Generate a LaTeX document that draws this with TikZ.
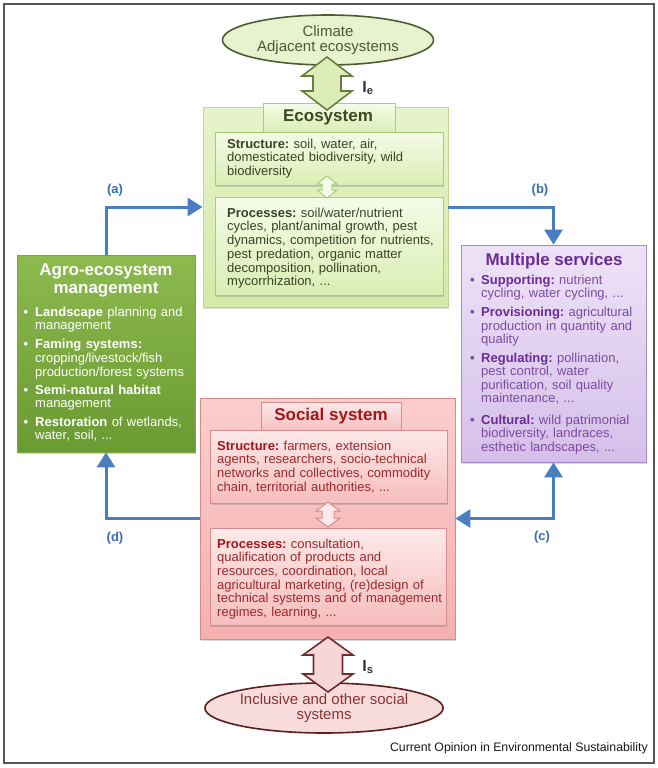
\documentclass[tikz,border=0pt]{standalone}
\usepackage{fontspec}
\setmainfont{Liberation Sans}
\usetikzlibrary{arrows.meta,shadows,shapes.geometric}
\frenchspacing

\definecolor{framegray}{HTML}{555555}
\definecolor{bluearr}{HTML}{4A7EC2}
\definecolor{bluelab}{HTML}{3A6DB5}
% ecosystem greens
\definecolor{ecotop}{HTML}{E6F3CB}
\definecolor{ecobot}{HTML}{D3EAA8}
\definecolor{ecoborder}{HTML}{B8D98F}
\definecolor{ecoinnertop}{HTML}{F5FBE8}
\definecolor{ecoinnerbot}{HTML}{DAEEB4}
\definecolor{ecoinnerborder}{HTML}{A8CC78}
\definecolor{ecotext}{HTML}{3B4226}
\definecolor{ecotitle}{HTML}{3A4A1E}
\definecolor{climfill}{HTML}{E7F2CF}
\definecolor{climborder}{HTML}{4F5B2F}
\definecolor{climtext}{HTML}{4C5733}
\definecolor{bigarrgfill}{HTML}{DCEDBA}
\definecolor{bigarrgborder}{HTML}{6B7B3C}
% agro
\definecolor{agrotop}{HTML}{8DBA4F}
\definecolor{agrobot}{HTML}{6A9A32}
\definecolor{agroborder}{HTML}{7AA640}
% services
\definecolor{servtop}{HTML}{EEE2F7}
\definecolor{servbot}{HTML}{D5BFEA}
\definecolor{servborder}{HTML}{A88BCB}
\definecolor{servtitle}{HTML}{6A2B97}
\definecolor{servtext}{HTML}{7B4AA0}
% social
\definecolor{soctop}{HTML}{FBCDCD}
\definecolor{socbot}{HTML}{F5B0B0}
\definecolor{socborder}{HTML}{D88A8A}
\definecolor{socinnertop}{HTML}{FDE9E9}
\definecolor{socinnerbot}{HTML}{F7BDBD}
\definecolor{socinnerborder}{HTML}{D98C8C}
\definecolor{soctitle}{HTML}{A3161A}
\definecolor{soctext}{HTML}{9A2A2A}
\definecolor{inclfill}{HTML}{F8DCDC}
\definecolor{inclborder}{HTML}{5A1F1F}
\definecolor{incltext}{HTML}{8C3232}
\definecolor{bigarrrfill}{HTML}{F6D6D6}
\definecolor{bigarrrborder}{HTML}{6E2C2C}

\newcommand\bodyfont{\fontsize{13}{13.7}\selectfont\frenchspacing}
\newcommand\fl{\rule{0pt}{9.5pt}}
\newcommand\bulA{\leavevmode\llap{\textbf{\textbullet}\hspace{7pt}}}
\newcommand\bulB{\leavevmode\llap{\textbf{\textbullet}\hspace{6.5pt}}}
\newcommand\dblarr[7]{%
  \draw[#1] (#2,#3) -- ({#2+#5},{#3+#7}) -- ({#2+#6},{#3+#7}) -- ({#2+#6},{#4-#7})
   -- ({#2+#5},{#4-#7}) -- (#2,#4) -- ({#2-#5},{#4-#7}) -- ({#2-#6},{#4-#7})
   -- ({#2-#6},{#3+#7}) -- ({#2-#5},{#3+#7}) -- cycle;}

\begin{document}
\begin{tikzpicture}[x=1pt,y=-1pt,
  box/.style={rectangle, inner sep=0pt, line width=0.8pt},
  shad/.style={drop shadow={shadow xshift=1.2pt, shadow yshift=-1.6pt, opacity=0.25, fill=black!60}},
  txt/.style={inner sep=0pt, anchor=north west, align=left, text width=300pt, font=\bodyfont},
  titlefont/.style={font=\fontsize{17}{18}\selectfont\bfseries},
  bluearrow/.style={draw=bluearr, line width=3pt, -{Triangle[length=15pt,width=18pt]}},
  bluedbl/.style={draw=bluearr, line width=3pt, {Triangle[length=15pt,width=18pt]}-{Triangle[length=15pt,width=18pt]}},
  bluelabel/.style={text=bluelab, font=\fontsize{13}{14}\selectfont\bfseries, inner sep=0pt},
  ilabel/.style={text=black!80, font=\fontsize{16}{16}\selectfont\bfseries, inner sep=0pt}
]
\useasboundingbox (0,0) rectangle (658,768);
\fill[white] (0,0) rectangle (658,768);
\draw[framegray, line width=1.8pt] (4,4) rectangle (654,763);

% ---------- Ecosystem ----------
\node[box, shad, draw=ecoborder, top color=ecotop, bottom color=ecobot,
      minimum width=245pt, minimum height=200pt] (eco) at (325.5,207) {};
\node[box, shad, draw=ecoinnerborder, top color=ecoinnertop, bottom color=ecoinnerbot,
      minimum width=132pt, minimum height=30pt] (ecotitlebox) at (329,118) {};
\node[titlefont, text=ecotitle, inner sep=0pt] (ecotitletxt) at (328,117) {Ecosystem};
\node[box, shad, draw=ecoinnerborder, top color=ecoinnertop, bottom color=ecoinnerbot,
      minimum width=228pt, minimum height=53pt] (ecostruct) at (329,158.5) {};
\node[box, shad, draw=ecoinnerborder, top color=ecoinnertop, bottom color=ecoinnerbot,
      minimum width=228pt, minimum height=98pt] (ecoproc) at (329,246) {};
\node[txt, text=ecotext] (ecostructtxt) at (227,138.5)
 {\fl\textbf{Structure:} soil, water, air,\\domesticated biodiversity, wild\\biodiversity};
\node[txt, text=ecotext] (ecoproctxt) at (227,207.5)
 {\fl\textbf{Processes:} soil/water/nutrient\\cycles, plant/animal growth, pest\\dynamics, competition for nutrients,\\pest predation, organic matter\\decomposition, pollination,\\mycorrhization, ...};

% ---------- Climate ----------
\node[ellipse, draw=climborder, line width=1.6pt, fill=climfill, minimum width=211pt,
      minimum height=50pt, inner sep=0pt, align=center, text=climtext,
      font=\fontsize{15}{15.5}\selectfont] (climate) at (328,40) {Climate\\Adjacent ecosystems};

% ---------- Agro ----------
\node[box, shad, draw=agroborder, top color=agrotop, bottom color=agrobot,
      minimum width=178pt, minimum height=197pt] (agro) at (106,353.5) {};
\node[titlefont, text=white, align=center, inner sep=0pt,
      font=\fontsize{17}{18}\selectfont\bfseries] (agrotitle) at (106,280) {Agro-ecosystem\\management};
\node[txt, text=white] (agrolist) at (25,306.5)
 {\leftskip=10pt\relax
  \bulA\fl\textbf{Landscape} planning and\\management\\[5pt]
  \bulA\textbf{Faming systems:}\\cropping/livestock/fish\\production/forest systems\\[4.5pt]
  \bulA\textbf{Semi-natural habitat}\\management\\[4.5pt]
  \bulA\textbf{Restoration} of wetlands,\\water, soil, ...\par};

% ---------- Services ----------
\node[box, shad, draw=servborder, top color=servtop, bottom color=servbot,
      minimum width=185pt, minimum height=217pt] (serv) at (553.5,353.5) {};
\node[titlefont, text=servtitle, inner sep=0pt] (servtitletxt) at (554,261) {Multiple services};
\node[txt, text=servtext, font=\fontsize{13}{13.5}\selectfont\frenchspacing] (servlist) at (471.5,274.5)
 {\leftskip=9.5pt\relax
  \bulB\fl\textcolor{servtitle}{\textbf{Supporting:}} nutrient\\cycling, water cycling, ...\\[5.5pt]
  \bulB\textcolor{servtitle}{\textbf{Provisioning:}} agricultural\\production in quantity and\\quality\\[5pt]
  \bulB\textcolor{servtitle}{\textbf{Regulating:}} pollination,\\pest control, water\\purification, soil quality\\maintenance, ...\\[8pt]
  \bulB\textcolor{servtitle}{\textbf{Cultural:}} wild patrimonial\\biodiversity, landraces,\\esthetic landscapes, ...\par};

% ---------- Social ----------
\node[box, shad, draw=socborder, top color=soctop, bottom color=socbot,
      minimum width=255pt, minimum height=241pt] (soc) at (327.5,518.5) {};
\node[box, shad, draw=socinnerborder, top color=socinnertop, bottom color=socinnerbot,
      minimum width=140pt, minimum height=30pt] (soctitlebox) at (331,417) {};
\node[titlefont, text=soctitle, inner sep=0pt] (soctitletxt) at (331,416) {Social system};
\node[box, shad, draw=socinnerborder, top color=socinnertop, bottom color=socinnerbot,
      minimum width=237pt, minimum height=73pt] (socstruct) at (328.5,466.5) {};
\node[box, shad, draw=socinnerborder, top color=socinnertop, bottom color=socinnerbot,
      minimum width=236pt, minimum height=97pt] (socproc) at (328,576.5) {};
\node[txt, text=soctext] (socstructtxt) at (217,440.5)
 {\fl\textcolor{soctitle}{\textbf{Structure:}} farmers, extension\\agents, researchers, socio-technical\\networks and collectives, commodity\\chain, territorial authorities, ...};
\node[txt, text=soctext, font=\fontsize{13}{13.6}\selectfont\frenchspacing] (socproctxt) at (217,538.5)
 {\fl\textcolor{soctitle}{\textbf{Processes:}} consultation,\\qualification of products and\\resources, coordination, local\\agricultural marketing, (re)design of\\technical systems and of management\\regimes, learning, ...};

% ---------- Inclusive ----------
\node[ellipse, draw=inclborder, line width=1.6pt, fill=inclfill, minimum width=218pt,
      minimum height=50pt, inner sep=0pt, align=center, text=incltext,
      font=\fontsize{15}{15.5}\selectfont] (incl) at (324,708) {Inclusive and other social\\systems};

% ---------- Double arrows ----------
\dblarr{draw=bigarrgborder, fill=bigarrgfill, line width=1.6pt}{327}{57}{110}{25}{14}{19}
\dblarr{draw=ecoinnerborder, fill=ecoinnertop, line width=1pt}{327}{176}{198}{10}{5}{8}
\dblarr{draw=socinnerborder, fill=socinnertop, line width=1pt}{328}{502}{527}{12}{6}{9}
\dblarr{draw=bigarrrborder, fill=bigarrrfill, line width=1.6pt}{328}{637}{692}{25}{14.5}{18}
\node[ilabel] (ie) at (368,88) {I\textsubscript{e}};
\node[ilabel] (is) at (368,667) {I\textsubscript{s}};

% ---------- Blue connectors ----------
\draw[bluearrow] (agro.north) |- (eco.west);
\draw[bluearrow] (eco.east) -| (serv.north);
\draw[bluedbl] (serv.south) |- (soc.east);
\draw[bluearrow] (soc.west) -| (agro.south);
\node[bluelabel] (la) at (115,190) {(a)};
\node[bluelabel] (lb) at (540,190) {(b)};
\node[bluelabel] (lc) at (542,537) {(c)};
\node[bluelabel] (ld) at (115,538) {(d)};

% ---------- Caption ----------
\node[anchor=east, inner sep=0pt, font=\fontsize{12.3}{13}\selectfont, text=black!90] (cap)
  at (648,748) {Current Opinion in Environmental Sustainability};
\end{tikzpicture}
\end{document}
